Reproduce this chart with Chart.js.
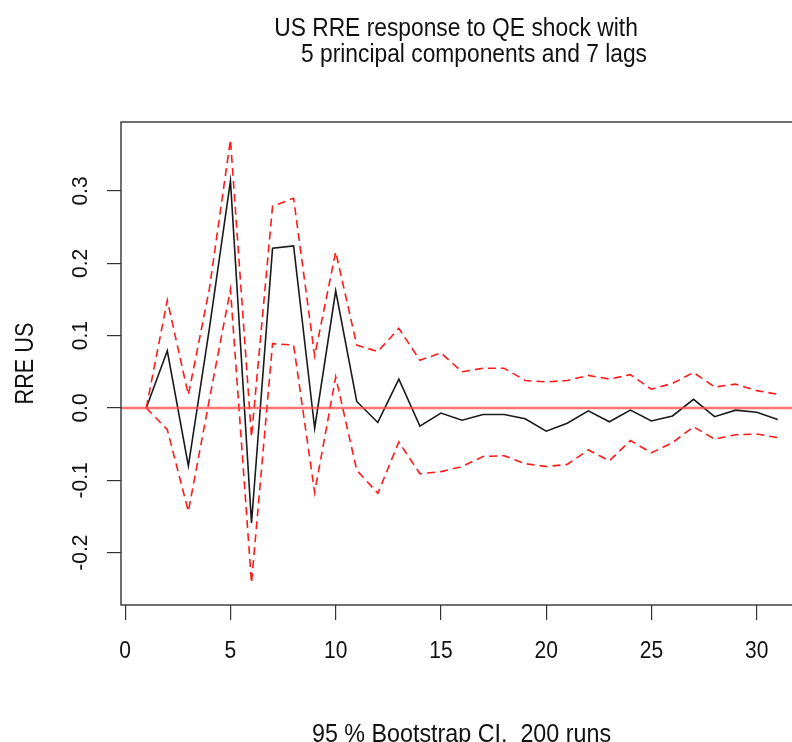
<!DOCTYPE html>
<html>
<head>
<meta charset="utf-8">
<script src="https://cdn.jsdelivr.net/npm/chart.js@4.4.1/dist/chart.umd.min.js"></script>
<style>
html,body{margin:0;padding:0;overflow:hidden;background:#fff}
#wrap{width:820px;height:742px}
</style>
</head>
<body>
<div id="wrap"><canvas id="irfChart" width="820" height="742"></canvas></div>
<script>
let horizon=[1,2,3,4,5,6,7,8,9,10,11,12,13,14,15,16,17,18,19,20,21,22,23,24,25,26,27,28,29,30,31]
let irf=[0,0.079,-0.080,0.11,0.314,-0.159,0.221,0.224,-0.028,0.162,0.009,-0.020,0.040,-0.025,-0.007,-0.017,-0.009,-0.009,-0.015,-0.032,-0.021,-0.004,-0.019,-0.003,-0.018,-0.011,0.012,-0.012,-0.003,-0.006,-0.016]
let upper=[0,0.149,0.018,0.165,0.371,-0.040,0.279,0.290,0.072,0.216,0.087,0.078,0.110,0.066,0.076,0.050,0.055,0.055,0.038,0.036,0.038,0.045,0.040,0.046,0.026,0.034,0.049,0.029,0.033,0.024,0.019]
let lower=[0,-0.030,-0.143,0.012,0.164,-0.242,0.089,0.087,-0.117,0.043,-0.086,-0.118,-0.047,-0.091,-0.088,-0.081,-0.067,-0.066,-0.077,-0.081,-0.078,-0.058,-0.073,-0.045,-0.062,-0.048,-0.026,-0.043,-0.037,-0.036,-0.041]

let xTicks=[0,5,10,15,20,25,30]
let xTickLabels=["0","5","10","15","20","25","30"]
let yTicks=[-0.2,-0.1,0,0.1,0.2,0.3]
let yTickLabels=["-0.2","-0.1","0.0","0.1","0.2","0.3"]
let titleLines=["US RRE response to QE shock with","5 principal components and 7 lags"]
let xTitle="95 % Bootstrap CI,  200 runs"
let yTitle="RRE US"

let xMin=-0.2, xMax=32.2
let yMin=-0.2724, yMax=0.3954

let fam="'Liberation Sans', Arial, sans-serif"

function pts(vals){
return vals.map((v,i)=>({x:horizon[i],y:v}))
}

// text centred on its cap height, stretched a bit to look like the R output
function drawText(ctx,txt,x,y,size,stretch,rot){
ctx.save()
ctx.translate(x,y)
if(rot) ctx.rotate(-Math.PI/2)
ctx.scale(1,stretch)
ctx.font=size+"px "+fam
ctx.textAlign="center"
ctx.textBaseline="alphabetic"
ctx.fillText(txt,0,0.358*size)
ctx.restore()
}

let rStyle={
id:"rStyle",
afterDraw(chart){
let ctx=chart.ctx
let ca=chart.chartArea
let xs=chart.scales.x
let ys=chart.scales.y
ctx.save()
ctx.strokeStyle="#333"
ctx.lineWidth=1.4
ctx.strokeRect(ca.left,ca.top,ca.right-ca.left,ca.bottom-ca.top)
ctx.fillStyle="#111"
xTicks.forEach((v,i)=>{
drawText(ctx,xTickLabels[i],xs.getPixelForValue(v),649.5,21,1.18,false)
})
yTicks.forEach((v,i)=>{
drawText(ctx,yTickLabels[i],79.5,ys.getPixelForValue(v),21,1.05,true)
})
drawText(ctx,titleLines[0],456,27.5,22.8,1.1,false)
drawText(ctx,titleLines[1],474,53.3,22.8,1.1,false)
drawText(ctx,xTitle,461.5,733,23.3,1.09,false)
drawText(ctx,yTitle,24.2,(ca.top+ca.bottom)/2,21.7,1.16,true)
ctx.restore()
}
}

let chart=new Chart(document.getElementById("irfChart"),{
type:"line",
data:{
datasets:[
{
data:[{x:xMin,y:0},{x:xMax,y:0}],
borderColor:"rgba(255,70,70,0.75)",
borderWidth:2.5
},
{
data:pts(upper),
borderColor:"#ff1a1a",
borderWidth:1.6,
borderDash:[8,5]
},
{
data:pts(lower),
borderColor:"#ff1a1a",
borderWidth:1.6,
borderDash:[8,5]
},
{
data:pts(irf),
borderColor:"#1a1a1a",
borderWidth:1.6
}
]
},
options:{
responsive:false,
animation:false,
devicePixelRatio:1,
layout:{padding:{left:0,top:122,right:17,bottom:0}},
elements:{point:{radius:0},line:{tension:0}},
plugins:{legend:{display:false},tooltip:{enabled:false},title:{display:false}},
scales:{
x:{
type:"linear",
min:xMin,
max:xMax,
afterBuildTicks:s=>{s.ticks=xTicks.map(v=>({value:v}))},
afterFit:s=>{s.height=137},
border:{display:false},
grid:{drawOnChartArea:false,drawTicks:true,tickLength:15,color:"#333",lineWidth:1.2},
ticks:{display:false}
},
y:{
type:"linear",
min:yMin,
max:yMax,
afterBuildTicks:s=>{s.ticks=yTicks.map(v=>({value:v}))},
afterFit:s=>{s.width=121},
border:{display:false},
grid:{drawOnChartArea:false,drawTicks:true,tickLength:14,color:"#333",lineWidth:1.2},
ticks:{display:false}
}
}
},
plugins:[rStyle]
})
</script>
</body>
</html>
